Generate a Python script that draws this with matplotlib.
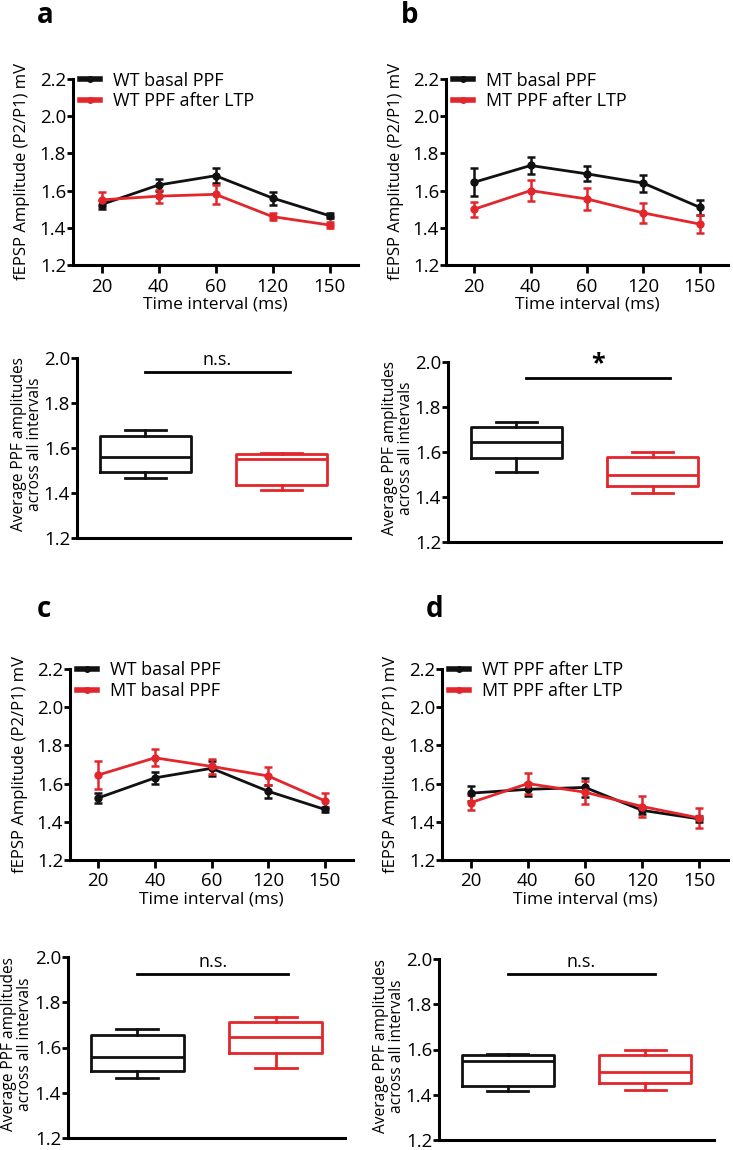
import numpy as np
import matplotlib.pyplot as plt
from matplotlib.lines import Line2D

plt.rcParams['font.family'] = ['Open Sans', 'DejaVu Sans']

RED = "#e3262c"
BLACK = "#111111"

intervals = ["20", "40", "60", "120", "150"]

# group means per interval (P2/P1) and SEM
wt_basal = [1.525, 1.63, 1.68, 1.56, 1.465]
wt_basal_err = [0.025, 0.03, 0.04, 0.035, 0.012]
wt_ltp = [1.55, 1.57, 1.58, 1.46, 1.415]
wt_ltp_err = [0.04, 0.035, 0.05, 0.02, 0.015]
mt_basal = [1.645, 1.735, 1.69, 1.64, 1.51]
mt_basal_err = [0.075, 0.045, 0.04, 0.045, 0.04]
mt_ltp = [1.50, 1.60, 1.555, 1.48, 1.42]
mt_ltp_err = [0.04, 0.055, 0.06, 0.055, 0.05]

line_panels = [
    (("WT basal PPF", wt_basal, wt_basal_err), ("WT PPF after LTP", wt_ltp, wt_ltp_err)),
    (("MT basal PPF", mt_basal, mt_basal_err), ("MT PPF after LTP", mt_ltp, mt_ltp_err)),
    (("WT basal PPF", wt_basal, wt_basal_err), ("MT basal PPF", mt_basal, mt_basal_err)),
    (("WT PPF after LTP", wt_ltp, wt_ltp_err), ("MT PPF after LTP", mt_ltp, mt_ltp_err)),
]
box_panels = [(wt_basal, wt_ltp), (mt_basal, mt_ltp), (wt_basal, mt_basal), (wt_ltp, mt_ltp)]
sig_text = ["n.s.", "*", "n.s.", "n.s."]
panel_letters = ["a", "b", "c", "d"]

W, H = 733, 1150
fig = plt.figure(figsize=(W / 100, H / 100), dpi=100)


def px_axes(l, t, r, b):
    return fig.add_axes([l / W, 1 - b / H, (r - l) / W, (b - t) / H])


line_boxes = [(73, 79, 358, 265), (446, 79, 728, 265), (70, 669, 353, 860), (442, 669, 728, 860)]
box_boxes = [(77, 358, 350, 538), (448, 362, 721, 542), (68, 957, 345, 1138), (439, 959, 714, 1140)]
letter_pos = [(37, 23), (401, 23), (37, 617), (426, 617)]
sig_line = [(1.0, 2.06, 1.94), (1.07, 2.13, 1.93), (1.0, 2.09, 1.925), (1.0, 2.07, 1.935)]


def style(ax):
    for s in ["top", "right"]:
        ax.spines[s].set_visible(False)
    for s in ["left", "bottom"]:
        ax.spines[s].set_linewidth(2.2)
    ax.tick_params(axis="both", direction="out", width=2, labelsize=13.5, colors="black")
    ax.tick_params(axis="y", length=4, pad=1)
    ax.tick_params(axis="x", length=6, pad=3)


for i in range(4):
    # line panel
    ax = px_axes(*line_boxes[i])
    x = np.arange(len(intervals))
    handles = []
    for (label, vals, errs), col in zip(line_panels[i], [BLACK, RED]):
        ax.errorbar(x, vals, yerr=errs, fmt="-o", color=col, lw=2, ms=5,
                    elinewidth=1.8, capsize=3, capthick=1.8)
        handles.append(Line2D([], [], color=col, lw=4, marker="o", ms=4, label=label))
    ax.set_xlim(-0.5, 4.5)
    ax.set_ylim(1.2, 2.2)
    ax.set_xticks(x)
    ax.set_xticklabels(intervals)
    ax.set_yticks(np.arange(1.2, 2.21, 0.2))
    ax.set_yticklabels([f"{v:.1f}" for v in np.arange(1.2, 2.21, 0.2)])
    ax.set_xlabel("Time interval (ms)", fontsize=12.5, labelpad=1)
    ax.set_ylabel("fEPSP Amplitude (P2/P1) mV", fontsize=12)
    ax.yaxis.set_label_coords(-0.15, 0.5)
    style(ax)
    ax.legend(handles=handles, loc="upper left", bbox_to_anchor=(0.025, 1.04),
              frameon=False, fontsize=13, handlelength=1.1, handletextpad=0.7,
              labelspacing=0.15, borderaxespad=0, borderpad=0)

    # box panel
    bx = px_axes(*box_boxes[i])
    for pos, (vals, col) in enumerate(zip(box_panels[i], [BLACK, RED]), start=1):
        q1, med, q3 = np.percentile(vals, [25, 50, 75], method="weibull")
        stats = [dict(med=med, q1=q1, q3=q3, whislo=min(vals), whishi=max(vals))]
        props = dict(color=col, linewidth=2)
        bx.bxp(stats, positions=[pos], widths=0.67, showfliers=False, capwidths=0.3,
               boxprops=props, whiskerprops=props, capprops=props, medianprops=props)
    bx.set_xlim(0.5, 2.5)
    bx.set_ylim(1.2, 2.0)
    bx.set_xticks([])
    bx.set_yticks(np.arange(1.2, 2.01, 0.2))
    bx.set_yticklabels([f"{v:.1f}" for v in np.arange(1.2, 2.01, 0.2)])
    bx.set_ylabel("Average PPF amplitudes\nacross all intervals", fontsize=11.2, linespacing=1.0)
    bx.yaxis.set_label_coords(-0.125, 0.52)
    style(bx)
    x0, x1, ys = sig_line[i]
    bx.plot([x0, x1], [ys, ys], color="black", lw=2, clip_on=False)
    if sig_text[i] == "*":
        bx.text((x0 + x1) / 2, ys + 0.005, "*", ha="center", va="bottom", fontsize=18,
                fontweight="bold")
    else:
        bx.text((x0 + x1) / 2, ys + 0.012, sig_text[i], ha="center", va="bottom", fontsize=13)

    lx, ly = letter_pos[i]
    fig.text(lx / W, 1 - ly / H, panel_letters[i], fontsize=20, fontweight="bold",
             ha="left", va="baseline")

fig.savefig("out.png", dpi=100)
